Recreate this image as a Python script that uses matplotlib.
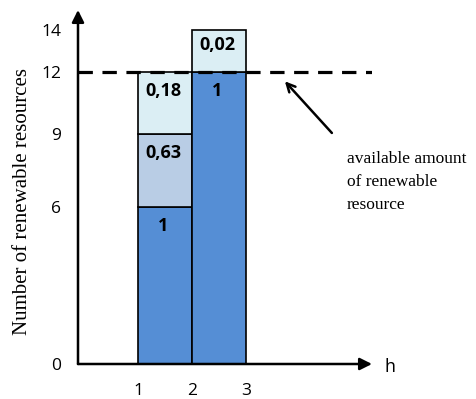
import numpy as np
import matplotlib.pyplot as plt

# bar data (period h, stacked segments)
bar_x = [1, 2]
seg_bottoms = [[0, 6, 9], [0, 12]]
seg_tops = [[6, 9, 12], [12, 14]]
seg_labels = [["1", "0,63", "0,18"], ["1", "0,02"]]
seg_colors = [["#558ed5", "#b9cde5", "#dbeef4"], ["#558ed5", "#dbeef4"]]

y_ticks = [0, 6, 9, 12, 14]
x_ticks = [1, 2, 3]
capacity = 12

# the y axis in the original is drawn by hand, not linear
y_vals = [0, 6, 9, 12, 14, 16]
y_pos = [0, 157, 230, 292, 334, 376]


def fwd(v):
    return np.interp(v, y_vals, y_pos)


def inv(p):
    return np.interp(p, y_pos, y_vals)


fig = plt.figure(figsize=(4.77, 3.99), dpi=100)
ax = fig.add_axes([78 / 477, 35 / 399, 294 / 477, 354 / 399])
ax.set_yscale('function', functions=(fwd, inv))
ax.set_xlim(-0.111, 5.333)
ax.set_ylim(0, inv(354))

for i, x in enumerate(bar_x):
    for b, t, lab, c in zip(seg_bottoms[i], seg_tops[i], seg_labels[i], seg_colors[i]):
        ax.bar(x, t - b, bottom=b, width=1, align='edge', color=c,
               edgecolor='black', linewidth=1.2, zorder=2)
        off = -11 if t == 14 else -14
        ax.annotate(lab, (x + 0.47, t), xytext=(0, off), textcoords='offset points',
                    ha='center', va='center', fontsize=13, fontweight='bold',
                    family='Open Sans', zorder=4)

# dashed capacity line
ax.axhline(capacity, color='black', lw=2.3, dashes=(4.5, 3), zorder=3)

for s in ax.spines.values():
    s.set_visible(False)
ax.annotate('', xy=(1.0, 0), xytext=(0, 0), xycoords='axes fraction',
            arrowprops=dict(arrowstyle='-|>', lw=1.8, color='black', mutation_scale=18,
                            shrinkA=0, shrinkB=0), zorder=5)
ax.annotate('', xy=(0, 1.0), xytext=(0, 0), xycoords='axes fraction',
            arrowprops=dict(arrowstyle='-|>', lw=1.8, color='black', mutation_scale=18,
                            shrinkA=0, shrinkB=0), zorder=5)

ax.set_yticks(y_ticks)
ax.set_yticklabels([str(v) for v in y_ticks], family='Open Sans', fontsize=12.5)
ax.set_xticks(x_ticks)
ax.set_xticklabels([str(v) for v in x_ticks], family='Open Sans', fontsize=12.5)
ax.tick_params(length=0, pad=12)
ax.tick_params(axis='x', pad=14)
ax.minorticks_off()

ax.set_ylabel('Number of renewable resources', family='Liberation Serif', fontsize=15)
ax.yaxis.set_label_coords(-0.155, 0.46)
fig.text(385 / 477, 1 - 367 / 399, 'h', family='Open Sans', fontsize=13, va='center')

ax.annotate('', xy=(3.72, 11.55), xytext=(4.59, 9.05),
            arrowprops=dict(arrowstyle='->', lw=1.8, color='black', mutation_scale=15,
                            shrinkA=0, shrinkB=0))
ax.text(4.87, 8.3, 'available amount\nof renewable\nresource', family='Liberation Serif',
        fontsize=12.5, va='top', ha='left', linespacing=1.6)

fig.savefig('out.png', dpi=100)
